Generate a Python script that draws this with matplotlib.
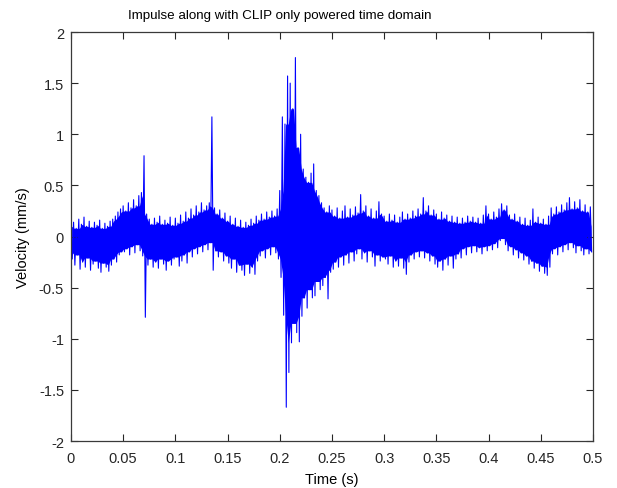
import numpy as np
import matplotlib
matplotlib.use("Agg")
import matplotlib.pyplot as plt
from matplotlib.ticker import FixedLocator, FixedFormatter

plt.rcParams['font.family'] = ['Liberation Sans', 'DejaVu Sans']

# Sample step of the envelope readings (s)
dt = 0.0025

# Upper band values (mm/s), one per 0.0025 s, in rows of 0.05 s
upper = [
    0.10, 0.14, 0.08, 0.17, 0.12, 0.19, 0.10, 0.15, 0.09, 0.14, 0.11, 0.16, 0.08, 0.13, 0.10, 0.15, 0.17, 0.20, 0.24, 0.27,
    0.30, 0.25, 0.33, 0.28, 0.36, 0.30, 0.40, 0.43, 0.79, 0.22, 0.17, 0.12, 0.18, 0.14, 0.20, 0.12, 0.16, 0.13, 0.19, 0.11,
    0.18, 0.13, 0.21, 0.15, 0.24, 0.18, 0.27, 0.21, 0.30, 0.24, 0.33, 0.26, 0.30, 0.33, 1.17, 0.28, 0.22, 0.26, 0.18, 0.23,
    0.15, 0.20, 0.12, 0.18, 0.10, 0.16, 0.09, 0.14, 0.11, 0.17, 0.13, 0.20, 0.16, 0.22, 0.17, 0.24, 0.19, 0.25, 0.20, 0.27,
    0.45, 1.17, 1.10, 1.57, 1.50, 1.25, 1.75, 0.87, 1.00, 0.66, 0.58, 0.53, 0.62, 0.71, 0.45, 0.40, 0.33, 0.28, 0.24, 0.30,
    0.26, 0.20, 0.28, 0.18, 0.25, 0.30, 0.19, 0.27, 0.21, 0.29, 0.23, 0.41, 0.25, 0.30, 0.20, 0.27, 0.18, 0.25, 0.34, 0.22,
    0.20, 0.15, 0.22, 0.16, 0.21, 0.14, 0.19, 0.24, 0.17, 0.22, 0.18, 0.25, 0.20, 0.27, 0.22, 0.38, 0.25, 0.30, 0.21, 0.26,
    0.22, 0.17, 0.24, 0.18, 0.21, 0.15, 0.20, 0.14, 0.19, 0.13, 0.18, 0.14, 0.20, 0.15, 0.19, 0.14, 0.18, 0.13, 0.21, 0.30,
    0.22, 0.17, 0.24, 0.19, 0.27, 0.32, 0.26, 0.30, 0.21, 0.17, 0.22, 0.15, 0.19, 0.12, 0.18, 0.11, 0.16, 0.27, 0.14, 0.19,
    0.13, 0.17, 0.12, 0.20, 0.28, 0.22, 0.29, 0.24, 0.31, 0.26, 0.33, 0.38, 0.27, 0.34, 0.28, 0.36, 0.25, 0.31, 0.24, 0.29,
]

# Lower band values (mm/s), half a step after each upper value
lower = [
    -0.22, -0.28, -0.18, -0.32, -0.25, -0.30, -0.21, -0.33, -0.27, -0.24, -0.31, -0.35, -0.26, -0.30, -0.34, -0.28, -0.22, -0.25, -0.18, -0.15,
    -0.15, -0.12, -0.18, -0.10, -0.16, -0.08, -0.14, -0.19, -0.79, -0.28, -0.22, -0.30, -0.25, -0.31, -0.22, -0.27, -0.33, -0.24, -0.28, -0.22,
    -0.20, -0.29, -0.24, -0.18, -0.26, -0.15, -0.20, -0.12, -0.17, -0.10, -0.15, -0.08, -0.13, -0.06, -0.33, -0.14, -0.20, -0.15, -0.24, -0.19,
    -0.26, -0.31, -0.22, -0.35, -0.28, -0.33, -0.38, -0.27, -0.36, -0.30, -0.37, -0.24, -0.19, -0.14, -0.21, -0.12, -0.18, -0.10, -0.16, -0.22,
    -0.40, -0.77, -1.67, -1.33, -1.04, -0.85, -0.94, -1.03, -0.78, -0.60, -0.70, -0.52, -0.60, -0.58, -0.44, -0.52, -0.48, -0.40, -0.61, -0.35,
    -0.32, -0.25, -0.30, -0.20, -0.28, -0.18, -0.26, -0.15, -0.24, -0.17, -0.12, -0.22, -0.16, -0.25, -0.14, -0.20, -0.29, -0.18, -0.24, -0.20,
    -0.22, -0.27, -0.19, -0.30, -0.24, -0.29, -0.21, -0.31, -0.37, -0.25, -0.18, -0.22, -0.15, -0.20, -0.14, -0.21, -0.16, -0.24, -0.19, -0.27,
    -0.30, -0.24, -0.33, -0.22, -0.28, -0.19, -0.31, -0.22, -0.17, -0.21, -0.12, -0.18, -0.10, -0.16, -0.09, -0.15, -0.11, -0.17, -0.10, -0.14,
    -0.09, -0.13, -0.07, -0.11, -0.04, -0.02, -0.08, -0.14, -0.10, -0.18, -0.13, -0.21, -0.16, -0.23, -0.19, -0.27, -0.24, -0.31, -0.26, -0.34,
    -0.29, -0.36, -0.38, -0.30, -0.17, -0.12, -0.18, -0.10, -0.15, -0.08, -0.13, -0.06, -0.11, -0.16, -0.09, -0.14, -0.18, -0.12, -0.17, -0.15,
]

x_ticks = [0, 0.05, 0.1, 0.15, 0.2, 0.25, 0.3, 0.35, 0.4, 0.45, 0.5]
x_labels = ["0", "0.05", "0.1", "0.15", "0.2", "0.25", "0.3", "0.35", "0.4", "0.45", "0.5"]
y_ticks = [-2, -1.5, -1, -0.5, 0, 0.5, 1, 1.5, 2]
y_labels = ["-2", "-1.5", "-1", "-0.5", "0", "0.5", "1", "1.5", "2"]

# Build the line: upper value, then lower value half a step later
up = np.asarray(upper)
lo = np.asarray(lower)
n = len(up)
t_up = np.arange(n) * dt
t_lo = t_up + dt / 2
t = np.empty(2 * n)
v = np.empty(2 * n)
t[0::2] = t_up
t[1::2] = t_lo
v[0::2] = up
v[1::2] = lo

# Solid core of the dense band (neighbour-wise minimum of the readings)
up_core = np.minimum(np.minimum(up, np.roll(up, 1)), np.roll(up, -1))
lo_core = np.maximum(np.maximum(lo, np.roll(lo, 1)), np.roll(lo, -1))

blue = (0, 0, 1)
fig = plt.figure(figsize=(6.17, 4.89), dpi=100)
ax = fig.add_axes([0.115, 0.0961, 0.846, 0.8364])
ax.fill_between(t_up + dt / 4, lo_core, up_core, color=blue, linewidth=0)
ax.plot(t, v, color=blue, linewidth=0.8)

ax.set_xlim(0, 0.5)
ax.set_ylim(-2, 2)
ax.xaxis.set_major_locator(FixedLocator(x_ticks))
ax.xaxis.set_major_formatter(FixedFormatter(x_labels))
ax.yaxis.set_major_locator(FixedLocator(y_ticks))
ax.yaxis.set_major_formatter(FixedFormatter(y_labels))
ax.tick_params(direction='in', top=True, right=True, length=5, width=0.8,
               labelsize=10.5, colors='#262626')
ax.tick_params(axis='x', pad=7)
ax.tick_params(axis='y', pad=5)
for s in ax.spines.values():
    s.set_color('#3a3a3a')
    s.set_linewidth(0.9)

ax.set_xlabel("Time (s)", fontsize=10.5, labelpad=5)
ax.set_ylabel("Velocity (mm/s)", fontsize=10.5, labelpad=6)
ax.set_title("Impulse along with CLIP only powered time domain", fontsize=9.6,
             x=0.40, pad=10)

fig.savefig("out.png", dpi=100)
